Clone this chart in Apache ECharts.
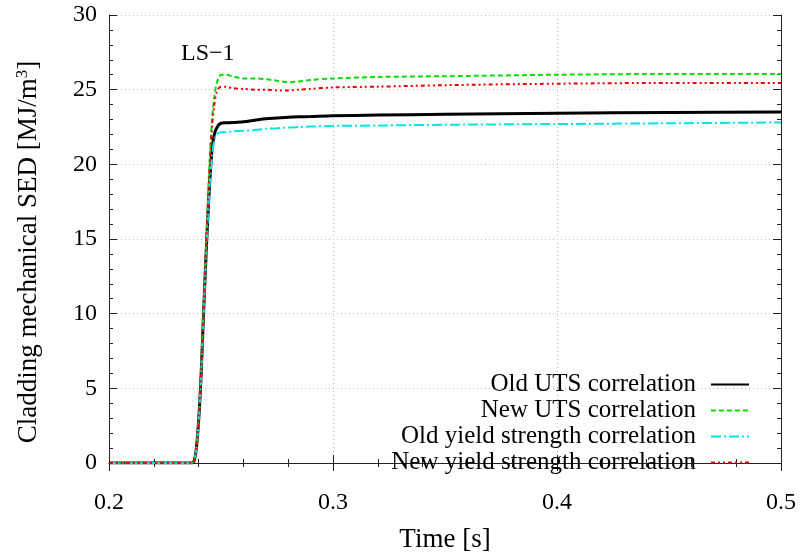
<!DOCTYPE html>
<html><head><meta charset="utf-8">
<script src="https://cdn.jsdelivr.net/npm/echarts@6/dist/echarts.min.js"></script>
<style>html,body{margin:0;padding:0;background:#fff}#c{width:803px;height:560px}</style>
</head><body><div id="c"></div>
<script>
const times = [0.2, 0.237, 0.238, 0.239, 0.240, 0.241, 0.242, 0.243, 0.244, 0.245, 0.246, 0.247, 0.248, 0.249, 0.250, 0.252, 0.255, 0.26, 0.265, 0.27, 0.275, 0.28, 0.285, 0.29, 0.3, 0.32, 0.35, 0.4, 0.45, 0.5];
const oldUTS   = [0, 0, 0.15, 1.0, 2.8, 5.5, 9.2, 12.8, 16.1, 18.9, 21.0, 22.0, 22.4, 22.65, 22.75, 22.78, 22.8, 22.85, 22.95, 23.05, 23.1, 23.15, 23.18, 23.2, 23.25, 23.3, 23.35, 23.42, 23.47, 23.5];
const newUTS   = [0, 0, 0.15, 1.0, 2.9, 5.7, 9.5, 13.3, 17.1, 20.5, 23.0, 24.5, 25.4, 25.8, 26.0, 26.0, 25.9, 25.75, 25.75, 25.7, 25.6, 25.5, 25.55, 25.65, 25.75, 25.85, 25.9, 26.0, 26.05, 26.05];
const oldYield = [0, 0, 0.15, 1.0, 2.8, 5.4, 9.1, 12.6, 15.9, 18.7, 20.6, 21.6, 22.0, 22.1, 22.15, 22.15, 22.2, 22.25, 22.3, 22.38, 22.42, 22.47, 22.5, 22.53, 22.57, 22.6, 22.65, 22.7, 22.75, 22.8];
const newYield = [0, 0, 0.15, 1.0, 2.9, 5.6, 9.4, 13.2, 16.9, 20.1, 22.5, 24.0, 24.8, 25.1, 25.2, 25.2, 25.1, 25.05, 25.0, 25.0, 24.95, 24.95, 25.0, 25.05, 25.15, 25.2, 25.3, 25.4, 25.45, 25.45];
const seriesNames = ['Old UTS correlation', 'New UTS correlation', 'Old yield strength correlation', 'New yield strength correlation'];
const xTicks = ['0.2', '0.3', '0.4', '0.5'];
const yTicks = ['0', '5', '10', '15', '20', '25', '30'];

const font = 'Liberation Serif';
function pairs(v){ return times.map((t,i)=>[t, v[i]]); }
const styles = [
  {color:'#000000', width:3, type:'solid'},
  {color:'#00e000', width:2, type:[5,3]},
  {color:'#00e6e6', width:2, type:[10,3,2,3]},
  {color:'#ee0000', width:2, type:[4,3,2,3,2,3]}
];
const data = [oldUTS, newUTS, oldYield, newYield];
const chart = echarts.init(document.getElementById('c'), null, {renderer:'canvas'});
const axisCommon = {
  axisLine:{show:true, lineStyle:{color:'#222', width:1}},
  axisTick:{show:true, inside:true, length:8, lineStyle:{color:'#222'}},
  minorTick:{show:true, splitNumber:5, length:4, lineStyle:{color:'#222'}}
};
chart.setOption({
  animation:false,
  backgroundColor:'#fff',
  title:{text:'LS\u22121', left:176, top:37, textStyle:{fontFamily:font, fontSize:24, fontWeight:'normal', color:'#000'}},
  grid:{left:109, right:22, top:15, bottom:97, containLabel:false},
  legend:{
    orient:'vertical', right:48, top:367, align:'right', itemGap:1, itemWidth:38, itemHeight:14,
    itemStyle:{opacity:0},
    textStyle:{fontFamily:font, fontSize:25, lineHeight:24, color:'#000', padding:[0,10,0,0]},
    data:seriesNames
  },
  xAxis:[
    Object.assign({type:'value', min:0.2, max:0.5, interval:0.1,
      name:'Time [s]', nameLocation:'middle', nameGap:63,
      nameTextStyle:{fontFamily:font, fontSize:27, color:'#000'},
      axisLabel:{margin:28, fontFamily:font, fontSize:24, color:'#000', formatter:(v)=>{const s=v.toFixed(1); return xTicks.includes(s)?s:'';}},
      splitLine:{show:true, lineStyle:{color:'#bbb', type:[1,3]}}
    }, axisCommon),
    Object.assign({type:'value', position:'top', min:0.2, max:0.5, interval:0.1, axisLabel:{show:false}, splitLine:{show:false}}, axisCommon)
  ],
  yAxis:[
    Object.assign({type:'value', min:0, max:30, interval:5,
      name:'Cladding mechanical SED [MJ/m{sup|3}]', nameLocation:'middle', nameGap:66,
      nameTextStyle:{fontFamily:font, fontSize:27, color:'#000', padding:[0,26,0,0], rich:{sup:{fontFamily:font, fontSize:17, color:'#000', verticalAlign:'top', padding:[0,0,12,0]}}},
      axisLabel:{margin:12, fontFamily:font, fontSize:24, color:'#000', formatter:(v)=>{const s=String(v); return yTicks.includes(s)?s:'';}},
      splitLine:{show:true, lineStyle:{color:'#bbb', type:[1,3]}}
    }, axisCommon),
    Object.assign({type:'value', position:'right', min:0, max:30, interval:5, axisLabel:{show:false}, splitLine:{show:false}}, axisCommon)
  ],
  series: seriesNames.map((n,i)=>({
    name:n, type:'line', data:pairs(data[i]), symbol:'none', smooth:0.3,
    lineStyle:{color:styles[i].color, width:styles[i].width, type:styles[i].type},
    itemStyle:{color:styles[i].color}, z: 2 + i
  }))
});
</script></body></html>
